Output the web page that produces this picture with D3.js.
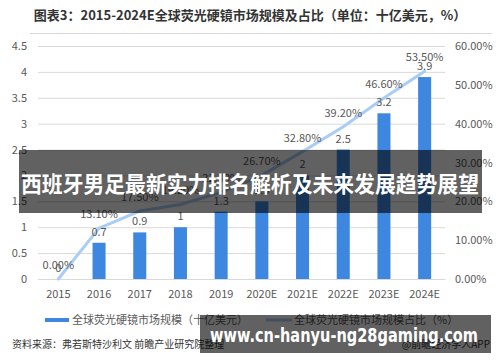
<!DOCTYPE html>
<html><head><meta charset="utf-8">
<script src="https://cdn.jsdelivr.net/npm/d3@7"></script>
<style>body{margin:0;background:#fff}svg{display:block}text{font-family:"Noto Sans CJK SC","Noto Sans",sans-serif}</style>
</head><body><svg id="c" width="500" height="362"></svg>
<script>
const categories = ["2015","2016","2017","2018","2019","2020E","2021E","2022E","2023E","2024E"];
const marketSize = [0, 0.7, 0.9, 1, 1.3, 1.5, 2, 2.5, 3.2, 3.9];
const sharePct = [0, 13.1, 17.5, 19.2, 22.3, 26.7, 32.8, 39.2, 46.6, 53.5];
const leftTicks = [0,0.5,1,1.5,2,2.5,3,3.5,4,4.5];
const rightTicks = [0,10,20,30,40,50,60];
const title = "图表3：2015-2024E全球荧光硬镜市场规模及占比（单位：十亿美元，%）";
const legendLabels = ["全球荧光硬镜市场规模（十亿美元）","全球荧光硬镜市场规模占比（%）"];
const sourceText = "资料来源：弗若斯特沙利文 前瞻产业研究院整理";
const creditText = "@前瞻经济学人APP";
const bannerText = "西班牙男足最新实力排名解析及未来发展趋势展望";
const urlText = "www.cn-hanyu-ng28gaming.com";

const svg = d3.select("#c");
const gray = "#595959", barColor = "#3d87e0", lineColor = "#a9cdf5";

const x = d3.scaleBand().domain(categories).range([38,445]).paddingInner(0.68).paddingOuter(0.34);
const yL = d3.scaleLinear().domain([0,4.5]).range([279,46]);
const yR = d3.scaleLinear().domain([0,60]).range([279,46]);
const cx = d => x(d) + x.bandwidth()/2;

// title
svg.append("text").attr("x",250).attr("y",20).attr("text-anchor","middle")
  .attr("font-size",13).attr("font-weight","bold").attr("fill","#333").text(title);
svg.append("line").attr("x1",30).attr("x2",492).attr("y1",33.5).attr("y2",33.5).attr("stroke","#d9d9d9");

// grid + left axis
const gL = svg.append("g").attr("transform","translate(38,0)")
  .call(d3.axisLeft(yL).tickValues(leftTicks).tickSize(-407).tickFormat(d=>d3.format("")(d)));
gL.select(".domain").remove();
gL.selectAll(".tick line").attr("stroke","#d9d9d9");
gL.selectAll(".tick text").attr("x",-11).attr("fill",gray).attr("font-size",11).style("font-family","'Noto Sans CJK SC',sans-serif");

const gR = svg.append("g").attr("transform","translate(445,0)")
  .call(d3.axisRight(yR).tickValues(rightTicks).tickSize(0).tickFormat(d=>d.toFixed(2)+"%"));
gR.select(".domain").remove();
gR.selectAll(".tick text").attr("x",10).attr("fill",gray).attr("font-size",11).style("font-family","'Noto Sans CJK SC',sans-serif");

const gX = svg.append("g").attr("transform","translate(0,279)")
  .call(d3.axisBottom(x).tickSize(0));
gX.select(".domain").attr("stroke","#d9d9d9");
gX.selectAll(".tick text").attr("y",11).attr("fill",gray).attr("font-size",11).style("font-family","'Noto Sans CJK SC',sans-serif");

// bars
svg.append("g").selectAll("rect").data(categories).join("rect")
  .attr("x",d=>x(d)).attr("width",x.bandwidth())
  .attr("y",(d,i)=>yL(marketSize[i])).attr("height",(d,i)=>yL(0)-yL(marketSize[i]))
  .attr("fill",barColor);

// line
const line = d3.line().x((d,i)=>cx(categories[i])).y(d=>yR(d));
svg.append("path").datum(sharePct).attr("d",line).attr("fill","none")
  .attr("stroke",lineColor).attr("stroke-width",3).attr("stroke-linecap","round");

// bar labels
svg.append("g").selectAll("text").data(categories).join("text")
  .attr("x",d=>cx(d)).attr("y",(d,i)=>yL(marketSize[i])-7)
  .attr("text-anchor","middle").attr("font-size",11).attr("fill",gray)
  .text((d,i)=>marketSize[i]);
// pct labels
svg.append("g").selectAll("text").data(categories).join("text")
  .attr("x",d=>cx(d)).attr("y",(d,i)=>yR(sharePct[i])-10)
  .attr("text-anchor","middle").attr("font-size",11).attr("fill",gray)
  .text((d,i)=>sharePct[i].toFixed(2)+"%");

// legend
svg.append("rect").attr("x",45).attr("y",318).attr("width",24).attr("height",4).attr("fill",barColor);
svg.append("text").attr("x",72).attr("y",324).attr("font-size",11).attr("fill",gray).text(legendLabels[0]);
svg.append("line").attr("x1",266).attr("x2",292).attr("y1",320).attr("y2",320).attr("stroke",lineColor).attr("stroke-width",3);
svg.append("text").attr("x",294).attr("y",324).attr("font-size",11).attr("fill",gray).text(legendLabels[1]);

svg.append("text").attr("x",12).attr("y",348).attr("font-size",10).attr("fill","#333").text(sourceText);
svg.append("text").attr("x",490).attr("y",348).attr("text-anchor","end").attr("font-size",10).attr("fill","#333").text(creditText);

// overlays
svg.append("rect").attr("x",19).attr("y",150).attr("width",463).attr("height",63).attr("fill","rgba(0,0,0,0.62)");
svg.append("text").attr("x",21).attr("y",192).attr("font-size",22).attr("font-weight","bold").attr("fill","#fff")
  .attr("textLength",458).attr("lengthAdjust","spacingAndGlyphs").text(bannerText);
svg.append("rect").attr("x",200).attr("y",315).attr("width",291).attr("height",38).attr("fill","rgba(0,0,0,0.62)");
svg.append("text").attr("x",210).attr("y",342).attr("font-size",20).attr("font-weight","bold").attr("fill","#fff")
  .style("font-family","'DejaVu Sans',sans-serif")
  .attr("textLength",268).attr("lengthAdjust","spacingAndGlyphs").text(urlText);
</script></body></html>
